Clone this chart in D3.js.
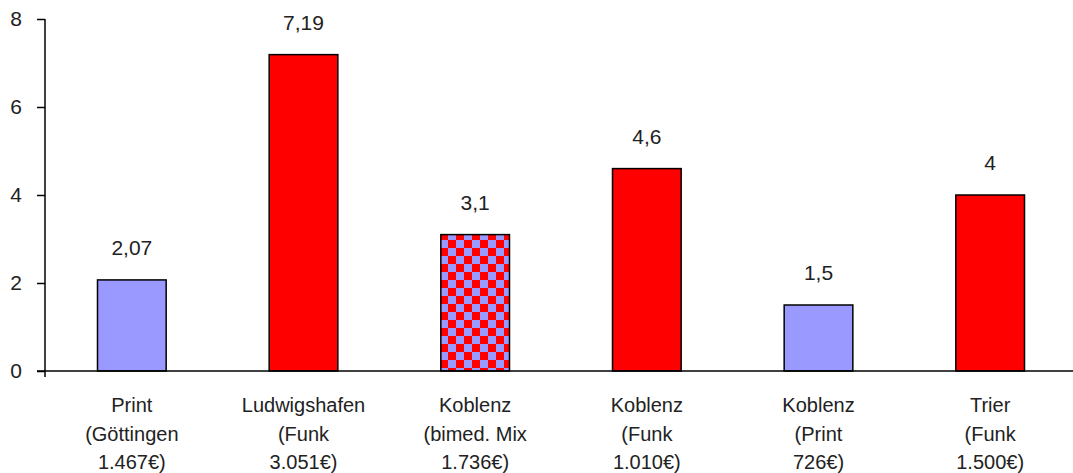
<!DOCTYPE html>
<html>
<head>
<meta charset="utf-8">
<script src="https://cdn.jsdelivr.net/npm/d3@7"></script>
<style>
  body { margin: 0; background: #fff; }
  svg { display: block; }
</style>
</head>
<body>
<div id="chart"></div>
<script>
// data
let categories = [
    ["Print", "(Göttingen", "1.467€)"],
    ["Ludwigshafen", "(Funk", "3.051€)"],
    ["Koblenz", "(bimed. Mix", "1.736€)"],
    ["Koblenz", "(Funk", "1.010€)"],
    ["Koblenz", "(Print", "726€)"],
    ["Trier", "(Funk", "1.500€)"]
];
let values = [2.07, 7.19, 3.1, 4.6, 1.5, 4];
let valueLabels = ["2,07", "7,19", "3,1", "4,6", "1,5", "4"];
let kinds = ["print", "funk", "mix", "funk", "print", "funk"];
let yTicks = [0, 2, 4, 6, 8];

const w = 1073, h = 473;
const lavender = "#9999ff", red = "#ff0000";

const svg = d3.select("#chart")
    .append("svg")
    .attr("width", w)
    .attr("height", h);

// checker fill for the mixed bar (8px squares)
const pat = svg.append("defs").append("pattern")
    .attr("id", "checker")
    .attr("patternUnits", "userSpaceOnUse")
    .attr("width", 16).attr("height", 16);
pat.append("rect").attr("width", 16).attr("height", 16).attr("fill", lavender);
pat.append("rect").attr("width", 8).attr("height", 8).attr("fill", red);
pat.append("rect").attr("x", 8).attr("y", 8).attr("width", 8).attr("height", 8).attr("fill", red);

const x = d3.scaleBand()
    .domain(d3.range(categories.length))
    .range([46, 1076])
    .paddingInner(0.6)
    .paddingOuter(0.3);

const y = d3.scaleLinear()
    .domain([0, 8])
    .range([371, 19]);

let fillFor = k => k == "print" ? lavender : (k == "funk" ? red : "url(#checker)");

// bars
svg.selectAll("rect.bar")
    .data(values)
    .enter()
    .append("rect")
    .attr("class", "bar")
    .attr("x", (d, i) => x(i))
    .attr("y", d => y(d))
    .attr("width", x.bandwidth())
    .attr("height", d => y(0) - y(d))
    .attr("fill", (d, i) => fillFor(kinds[i]))
    .attr("stroke", "#000")
    .attr("stroke-width", 1.5);

// value labels
svg.selectAll("text.val")
    .data(values)
    .enter()
    .append("text")
    .attr("class", "val")
    .attr("x", (d, i) => x(i) + x.bandwidth() / 2)
    .attr("y", d => y(d) - 25)
    .attr("text-anchor", "middle")
    .style("font-family", "Liberation Sans, Arial, sans-serif")
    .style("font-size", "21px")
    .style("fill", "#222")
    .text((d, i) => valueLabels[i]);

// y axis
const yAxis = d3.axisLeft(y)
    .tickValues(yTicks)
    .tickSize(8)
    .tickPadding(15)
    .tickSizeOuter(0);

const gy = svg.append("g")
    .attr("transform", "translate(45,0)")
    .call(yAxis);
gy.select(".domain").remove();
gy.selectAll("line").attr("stroke", "#000").attr("stroke-width", 1.5);
gy.selectAll("text")
    .style("font-family", "Liberation Sans, Arial, sans-serif")
    .style("font-size", "21px")
    .style("fill", "#222");

// axis lines
svg.append("line")
    .attr("x1", 45).attr("x2", 45)
    .attr("y1", y(8)).attr("y2", y(0) + 6)
    .attr("stroke", "#000").attr("stroke-width", 1.5);
svg.append("line")
    .attr("x1", 37).attr("x2", w)
    .attr("y1", y(0)).attr("y2", y(0))
    .attr("stroke", "#000").attr("stroke-width", 1.5);

// category labels, three lines each
const cat = svg.selectAll("text.cat")
    .data(categories)
    .enter()
    .append("text")
    .attr("class", "cat")
    .attr("text-anchor", "middle")
    .style("font-family", "Liberation Sans, Arial, sans-serif")
    .style("font-size", "20px")
    .style("fill", "#222");

cat.selectAll("tspan")
    .data((d, i) => d.map(s => ({ s: s, i: i })))
    .enter()
    .append("tspan")
    .attr("x", d => x(d.i) + x.bandwidth() / 2)
    .attr("y", (d, j) => 412 + j * 28.5)
    .text(d => d.s);
</script>
</body>
</html>
